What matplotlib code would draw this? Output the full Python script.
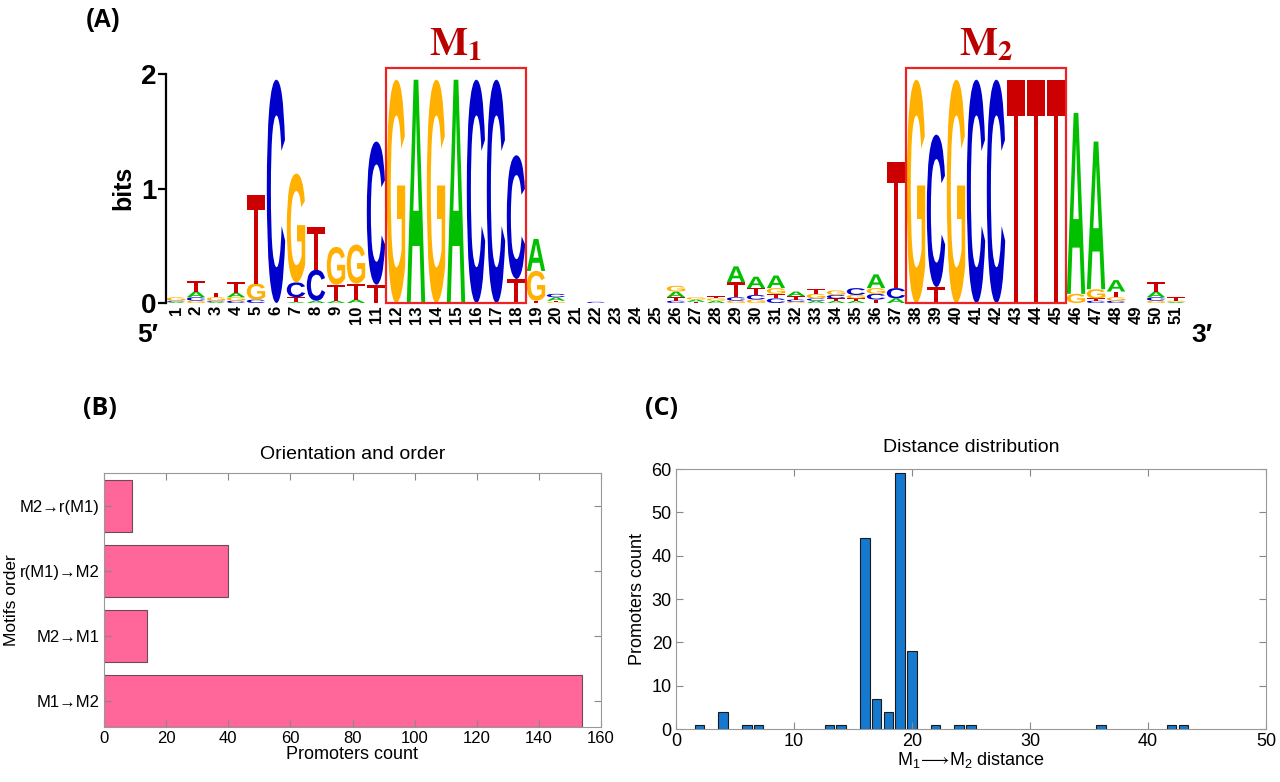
import numpy as np
import matplotlib
matplotlib.use('Agg')
import matplotlib.pyplot as plt
from matplotlib.textpath import TextPath
from matplotlib.patches import PathPatch, Rectangle
from matplotlib.font_manager import FontProperties
import matplotlib.transforms as mtransforms

plt.rcParams['font.family'] = ['Liberation Sans', 'DejaVu Sans']
plt.rcParams['mathtext.fontset'] = 'custom'
plt.rcParams['mathtext.rm'] = 'Liberation Sans'
plt.rcParams['mathtext.it'] = 'Liberation Sans:italic'
plt.rcParams['mathtext.bf'] = 'Liberation Sans:bold'

# ---- (A) sequence logo, information (bits) per letter and position 1..51
positions = list(range(1, 52))
A_bits = [.01, .05, .01, .04, 0, 0, .01, .02, .02, .03,
          0, 0, 1.95, 0, 1.95, 0, 0, 0, .28, .03,
          0, 0, 0, 0, 0, .05, .02, .02, .14, .10,
          .11, .04, .02, .02, .02, .12, .04, 0, 0, 0,
          0, 0, 0, 0, 0, 1.58, 1.29, .10, 0, .05, .01]
C_bits = [.01, .03, .01, .02, .03, 1.95, .13, .27, 0, 0,
          1.25, 0, 0, 0, 0, 1.95, 1.95, 1.08, 0, .03,
          0, .01, 0, 0, 0, .02, 0, 0, .03, .04,
          .04, .02, .02, .03, .06, .05, .09, 0, 1.33, 0,
          1.95, 1.95, 0, 0, 0, 0, .02, .02, 0, .03, 0]
G_bits = [.03, .02, .03, .03, .14, 0, .95, 0, .33, .34,
          0, 1.95, 0, 1.95, 0, 0, 0, 0, .26, .01,
          0, 0, 0, 0, 0, .05, .02, .02, .02, .03,
          .05, .01, .04, .04, .03, .05, 0, 1.95, 0, 1.95,
          0, 0, 0, 0, 0, .08, .08, .03, 0, .02, .01]
T_bits = [0, .09, .04, .09, .77, 0, .04, .37, .14, .14,
          .16, 0, 0, 0, 0, 0, 0, .21, .02, .01,
          0, 0, 0, 0, 0, .03, .01, .02, .13, .06,
          .04, .03, .04, .02, .02, .03, 1.10, 0, .14, 0,
          0, 0, 1.95, 1.95, 1.95, 0, .02, .05, 0, .08, .03]

# ---- (B) orientation and order
order_labels = ['M1\u2192M2', 'M2\u2192M1', 'r(M1)\u2192M2', 'M2\u2192r(M1)']
order_counts = [154, 14, 40, 9]

# ---- (C) distance distribution
distances = [2, 4, 6, 7, 13, 14, 16, 17, 18, 19, 20, 22, 24, 25, 36, 42, 43]
dist_counts = [1, 4, 1, 1, 1, 1, 44, 7, 4, 59, 18, 1, 1, 1, 1, 1, 1]

letter_colors = {'A': '#00c000', 'C': '#0000cc', 'G': '#ffb000', 'T': '#cc0000'}
letter_fp = FontProperties(family='Liberation Sans', weight='bold')
glyphs = {c: TextPath((0, 0), c, size=1, prop=letter_fp) for c in 'ACGT'}


def draw_letter(ax, c, x, y, w, h):
    path = glyphs[c]
    ext = path.get_extents()
    tr = (mtransforms.Affine2D()
          .translate(-ext.x0, -ext.y0)
          .scale(w / ext.width, h / ext.height)
          .translate(x - w / 2, y))
    ax.add_patch(PathPatch(tr.transform_path(path), fc=letter_colors[c], ec='none'))


fig = plt.figure(figsize=(12.8, 7.82), dpi=100)

# logo
ax = fig.add_axes([166 / 1280, 1 - 303 / 782, 1020 / 1280, 229 / 782])
for i, p in enumerate(positions):
    col = sorted(zip([A_bits[i], C_bits[i], G_bits[i], T_bits[i]], 'ACGT'))
    y0 = 0
    for h, c in col:
        if h <= 0:
            continue
        draw_letter(ax, c, p, y0, 0.92, h)
        y0 += h
ax.set_xlim(0.5, 51.5)
ax.set_ylim(0, 2)
for s in ['top', 'right', 'bottom']:
    ax.spines[s].set_visible(False)
ax.spines['left'].set_linewidth(1.6)
ax.spines['left'].set_bounds(0, 2)
ax.set_yticks([0, 1, 2])
ax.set_yticklabels(['0', '1', '2'], fontsize=20, fontweight='bold')
ax.tick_params(axis='y', length=6, width=1.6, pad=1)
ax.set_xticks(positions)
ax.set_xticklabels([str(p) for p in positions], rotation=90, fontsize=12,
                   fontweight='bold')
ax.tick_params(axis='x', length=0, pad=2)

for x0, x1, lab in [(11.5, 18.5, r'$\mathbf{M}_\mathbf{1}$'),
                    (37.5, 45.5, r'$\mathbf{M}_\mathbf{2}$')]:
    ax.add_patch(Rectangle((x0, 0), x1 - x0, 2.05, fill=False, ec='#ee2222',
                           lw=1.6, clip_on=False))
    ax.text((x0 + x1) / 2, 2.09, lab, ha='center', va='bottom', fontsize=29,
            color='#bb0000', math_fontfamily='stix')

fig.text(123 / 1280, 1 - 188 / 782, 'bits', rotation=90, ha='center',
         va='center', fontsize=18, fontweight='bold')
fig.text(148 / 1280, 1 - 335 / 782, '5\u2032', ha='center', va='center',
         fontsize=19, fontweight='bold', family=['Liberation Sans', 'DejaVu Sans'])
fig.text(1202 / 1280, 1 - 335 / 782, '3\u2032', ha='center', va='center',
         fontsize=19, fontweight='bold', family=['Liberation Sans', 'DejaVu Sans'])
fig.text(103 / 1280, 1 - 20 / 782, '(A)', ha='center', va='center',
         fontsize=18, fontweight='bold')

# panel B
axb = fig.add_axes([104 / 1280, 1 - 727 / 782, 497 / 1280, 254 / 782])
yb = np.arange(1, len(order_counts) + 1)
axb.barh(yb, order_counts, height=0.8, color='#ff6699', edgecolor='#6e4a57',
         linewidth=0.8)
axb.set_xlim(0, 160)
axb.set_ylim(0.6, 4.5)
axb.set_xticks(range(0, 161, 20))
axb.set_yticks(yb)
axb.set_yticklabels(order_labels, fontsize=11.5)
axb.tick_params(direction='in', top=True, right=True, labelsize=12, length=5,
                color='#888888', pad=3)
axb.set_xlabel('Promoters count', fontsize=13, labelpad=0)
axb.set_ylabel('Motifs order', fontsize=12.5, labelpad=1)
axb.set_title('Orientation and order', fontsize=14, pad=10)
for s in axb.spines.values():
    s.set_color('#999999')
fig.text(100 / 1280, 1 - 409 / 782, '(B)', ha='center', va='center',
         fontsize=18, fontweight='bold', family=['Open Sans', 'DejaVu Sans'])

# panel C
axc = fig.add_axes([676 / 1280, 1 - 729 / 782, 590 / 1280, 260 / 782])
axc.bar(distances, dist_counts, width=0.8, color='#1479cf', edgecolor='#1a1a1a',
        linewidth=0.8)
axc.set_xlim(0, 50)
axc.set_ylim(0, 60)
axc.set_xticks(range(0, 51, 10))
axc.set_yticks(range(0, 61, 10))
axc.tick_params(direction='in', top=True, right=True, labelsize=13, length=5,
                color='#888888', pad=3)
axc.set_xlabel(r'M$_1\!\longrightarrow\!$M$_2$ distance', fontsize=13, labelpad=0)
axc.set_ylabel('Promoters count', fontsize=13, labelpad=4)
axc.set_title('Distance distribution', fontsize=14, pad=12)
for s in axc.spines.values():
    s.set_color('#999999')
fig.text(662 / 1280, 1 - 409 / 782, '(C)', ha='center', va='center',
         fontsize=18, fontweight='bold', family=['Open Sans', 'DejaVu Sans'])

fig.savefig('out.png', dpi=100)
